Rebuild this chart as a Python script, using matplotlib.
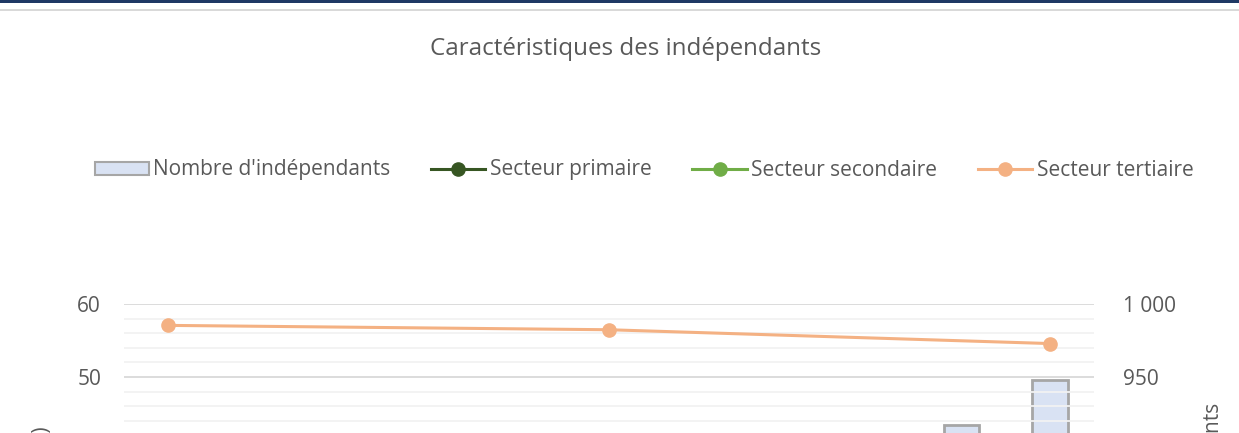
import matplotlib
matplotlib.use('Agg')
import matplotlib.pyplot as plt
from matplotlib.patches import Patch, Rectangle
from matplotlib.lines import Line2D
from matplotlib.ticker import MultipleLocator, FuncFormatter

# --- data ---
years = [2010, 2011, 2012, 2013, 2014, 2015, 2016, 2017, 2018, 2019, 2020]
nb_independants = [858, 864, 870, 876, 882, 888, 894, 900, 906, 917, 948]
line_years = [2010, 2015, 2020]
primaire = [9.9, 9.5, 9.2]
secondaire = [33.0, 34.0, 36.2]
tertiaire = [57.1, 56.5, 54.6]

TXT = '#595959'
W, H = 1239, 433
plt.rcParams['font.family'] = ['Open Sans', 'DejaVu Sans']

fig = plt.figure(figsize=(W / 100, H / 100), dpi=100)

# top band + thin separator
fig.add_artist(Rectangle((0, 1 - 3 / H), 1, 3 / H, transform=fig.transFigure,
                         color='#1F3864', lw=0))
fig.add_artist(Rectangle((0, 1 - 11 / H), 1, 2 / H, transform=fig.transFigure,
                         color='#D9D9D9', lw=0))

# plot area: top at y=304 px, extends below the visible frame
top_px, bot_px = 304.3, 740.5
left_px, right_px = 124, 1094
ax = fig.add_axes([left_px / W, 1 - bot_px / H, (right_px - left_px) / W,
                   (bot_px - top_px) / H])
ax2 = ax.twinx()

xi = list(range(len(years)))
line_x = [years.index(y) for y in line_years]

ax2.bar(xi, nb_independants, width=0.4, color='#D9E2F3', edgecolor='#A6A6A6',
        linewidth=2, zorder=2)
ax2.set_ylim(700, 1000)

ax.plot(line_x, primaire, color='#375623', lw=2.2, marker='o', ms=9.5, zorder=5)
ax.plot(line_x, secondaire, color='#70AD47', lw=2.2, marker='o', ms=9.5, zorder=5)
ax.plot(line_x, tertiaire, color='#F4B183', lw=2.2, marker='o', ms=9.5, zorder=5)
ax.set_ylim(0, 60)
ax.set_xlim(-0.5, len(years) - 0.5)

ax.set_zorder(ax2.get_zorder() + 1)
ax.patch.set_visible(False)

ax.yaxis.set_major_locator(MultipleLocator(10))
ax.yaxis.set_minor_locator(MultipleLocator(2))
ax.grid(which='major', axis='y', color='#D9D9D9', lw=1.3, zorder=0)
ax.grid(which='minor', axis='y', color='#F2F2F2', lw=1.3, zorder=0)
ax.set_axisbelow(True)
ax2.yaxis.set_major_locator(MultipleLocator(50))
ax2.yaxis.set_major_formatter(FuncFormatter(lambda v, p: f'{int(v):,}'.replace(',', ' ')))

for a in (ax, ax2):
    for s in a.spines.values():
        s.set_visible(False)
    a.tick_params(which='both', length=0, labelsize=15, labelcolor=TXT)
ax.tick_params(axis='y', pad=16.5)
ax2.tick_params(axis='y', pad=21)
# year labels sit below the visible frame
ax.set_xticks(xi)
ax.set_xticklabels([])

# axis titles (only their ends are visible)
fig.text(43 / W, 1 - 426 / H, 'Part des secteurs (%)', rotation=90, ha='center',
         va='top', fontsize=15, color=TXT)
fig.text(1213 / W, 1 - 403 / H, "Nombre d'indépendants", rotation=90, ha='center',
         va='top', fontsize=15, color=TXT)

fig.text(626 / W, 1 - 49 / H, 'Caractéristiques des indépendants', ha='center',
         va='center', fontsize=17.4, color=TXT)

handles = [
    Patch(facecolor='#D9E2F3', edgecolor='#A6A6A6', lw=1.5),
    Line2D([], [], color='#375623', lw=2.2, marker='o', ms=9.5),
    Line2D([], [], color='#70AD47', lw=2.2, marker='o', ms=9.5),
    Line2D([], [], color='#F4B183', lw=2.2, marker='o', ms=9.5),
]
labels = ["Nombre d'indépendants", 'Secteur primaire', 'Secteur secondaire',
          'Secteur tertiaire']
leg = fig.legend(handles, labels, loc='center', bbox_to_anchor=(644 / W, 1 - 170 / H),
                 ncol=4, frameon=False, fontsize=15, handlelength=2.6,
                 handleheight=0.6, handletextpad=0.22, columnspacing=1.95,
                 borderaxespad=0)
for t in leg.get_texts():
    t.set_color(TXT)

fig.savefig('out.png', dpi=100)
